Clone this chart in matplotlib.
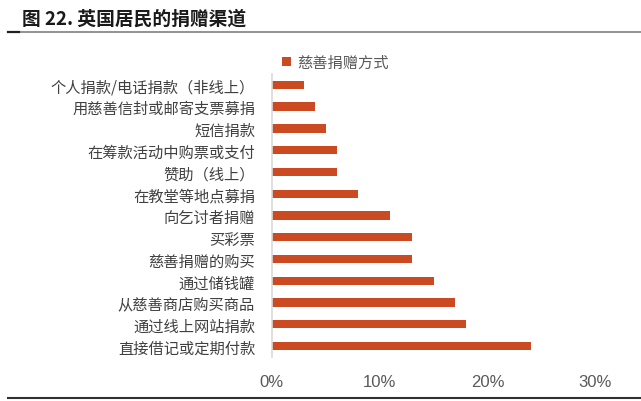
import matplotlib.pyplot as plt
from matplotlib.lines import Line2D
from matplotlib.ticker import FuncFormatter

plt.rcParams['font.family'] = ['Noto Sans CJK SC', 'DejaVu Sans']

# 捐赠渠道（从上到下）
channels = ['个人捐款/电话捐款（非线上）', '用慈善信封或邮寄支票募捐', '短信捐款',
            '在筹款活动中购票或支付', '赞助（线上）', '在教堂等地点募捐', '向乞讨者捐赠',
            '买彩票', '慈善捐赠的购买', '通过储钱罐', '从慈善商店购买商品',
            '通过线上网站捐款', '直接借记或定期付款']
share = [3, 4, 5, 6, 6, 8, 11, 13, 13, 15, 17, 18, 24]
series_name = '慈善捐赠方式'
xticks = [0, 10, 20, 30]

bar_color = '#CB4A21'
gray = '#595959'

fig = plt.figure(figsize=(6.41, 4.02), dpi=100)
ax = fig.add_axes([0.424, 0.1095, 0.505, 0.704])

ypos = list(range(len(channels)))[::-1]
ax.barh(ypos, share, height=0.38, color=bar_color, label=series_name)

ax.set_xlim(0, 30)
ax.set_ylim(-0.5, len(channels) - 0.5)
ax.set_xticks(xticks)
ax.xaxis.set_major_formatter(FuncFormatter(lambda v, p: f'{v:.0f}%'))
ax.set_yticks(ypos)
ax.set_yticklabels(channels, fontsize=11, color='#404040')
for lab in ax.get_xticklabels():
    lab.set_family('Liberation Sans')
    lab.set_fontsize(12)
    lab.set_color(gray)
ax.tick_params(length=0)
ax.tick_params(axis='x', pad=12)
ax.tick_params(axis='y', pad=12)
for s in ['top', 'right', 'bottom']:
    ax.spines[s].set_visible(False)
ax.spines['left'].set_color('#D9D9D9')
ax.spines['left'].set_linewidth(1.2)

ax.legend(loc='upper left', bbox_to_anchor=(-0.01, 1.12), frameon=False,
          fontsize=11, handlelength=0.6, handleheight=0.6, handletextpad=0.4,
          labelcolor=gray)

# 标题与分隔线
fig.text(0.034, 0.953, '图 22. 英国居民的捐赠渠道', fontsize=13.5, fontweight='bold',
         va='center', ha='left', color='#1a1a1a')
fig.add_artist(Line2D([0.0125, 1], [0.918, 0.918], color='#808080', lw=1.2))
fig.add_artist(Line2D([0.0125, 0.03], [0.918, 0.918], color='#202020', lw=1.6))
fig.add_artist(Line2D([0.0125, 1], [0.0075, 0.0075], color='#303030', lw=1.5))

fig.savefig('out.png', dpi=100)
